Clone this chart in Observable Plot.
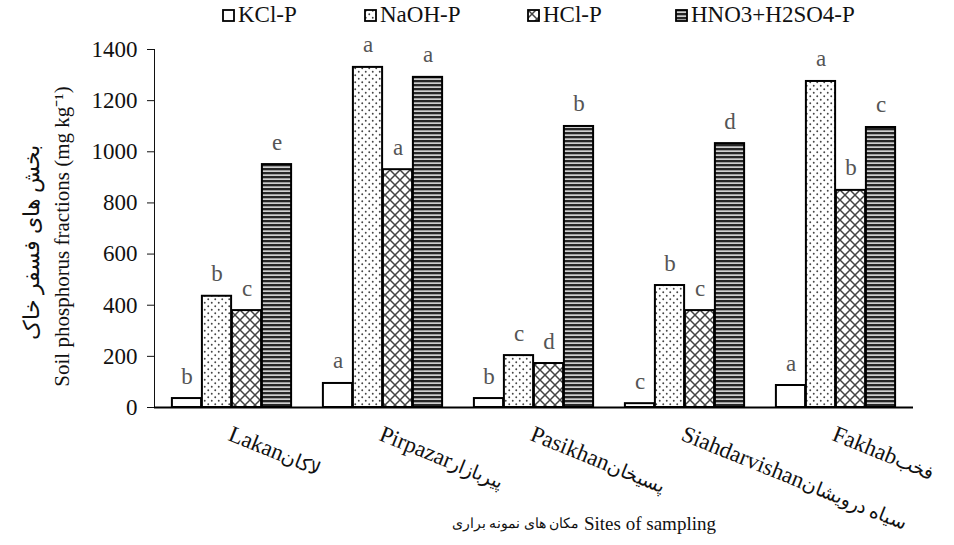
<!DOCTYPE html>
<html><head><meta charset="utf-8">
<script src="https://cdn.jsdelivr.net/npm/d3@7"></script>
<script src="https://cdn.jsdelivr.net/npm/@observablehq/plot@0.6"></script>
<style>
body{margin:0;background:#fff;font-family:"Liberation Serif","Times New Roman",serif;}
#wrap{position:relative;width:954px;height:545px;}
#legend{position:absolute;top:0;left:0;width:954px;height:32px;}
.item{position:absolute;top:1px;font-size:23px;line-height:28px;display:flex;align-items:center;white-space:nowrap;color:#111;font-family:"Liberation Serif",serif;}
.item svg{margin-right:3px;}
</style></head>
<body>
<svg width="0" height="0" style="position:absolute">
  <defs>
    <pattern id="pat0" patternUnits="userSpaceOnUse" width="4" height="4">
      <rect width="4" height="4" fill="#fff"/>
    </pattern>
    <pattern id="pat1" patternUnits="userSpaceOnUse" width="7" height="7">
      <rect width="7" height="7" fill="#fff"/>
      <circle cx="1.75" cy="1.75" r="0.95" fill="#444"/>
      <circle cx="5.25" cy="5.25" r="0.95" fill="#444"/>
    </pattern>
    <pattern id="pat2" patternUnits="userSpaceOnUse" width="10" height="10">
      <rect width="10" height="10" fill="#fff"/>
      <path d="M0,0L10,10M10,0L0,10M-1,9L1,11M9,-1L11,1" stroke="#444" stroke-width="1.5"/>
    </pattern>
    <pattern id="pat3" patternUnits="userSpaceOnUse" width="4" height="4">
      <rect width="4" height="4" fill="#cfcfcf"/>
      <rect y="0" width="4" height="2.3" fill="#262626"/>
    </pattern>
  </defs>
</svg>
<div id="wrap"><div id="legend"></div><div id="chart"></div></div>
<script>
const sites = ["Lakan", "Pirpazar", "Pasikhan", "Siahdarvishan", "Fakhab"];
const siteNamesEn = ["Lakan", "Pirpazar", "Pasikhan", "Siahdarvishan", "Fakhab"];
const siteNamesFa = ["لاکان", "پیربازار", "پسیخان", "سیاه درویشان", "فخب"];
const series = ["KCl-P", "NaOH-P", "HCl-P", "HNO3+H2SO4-P"];
const kclP = [35, 94, 35, 15, 86];
const naohP = [435, 1330, 203, 477, 1275];
const hclP = [379, 930, 172, 379, 849];
const hno3P = [950, 1291, 1099, 1032, 1095];
const kclLetters = ["b", "a", "b", "c", "a"];
const naohLetters = ["b", "a", "c", "b", "a"];
const hclLetters = ["c", "a", "d", "c", "b"];
const hno3Letters = ["e", "a", "b", "d", "c"];
const yTicks = [0, 200, 400, 600, 800, 1000, 1200, 1400];
const yTitle = "Soil phosphorus fractions (mg kg⁻¹)";
const yTitleFa = "بخش های فسفر خاک";
const xTitleFa = "مکان های نمونه براری";
const xTitleEn = "Sites of sampling";

const valuesBySeries = [kclP, naohP, hclP, hno3P];
const lettersBySeries = [kclLetters, naohLetters, hclLetters, hno3Letters];
const tables = series.map((s, k) => sites.map((site, i) => ({site, series: s, value: valuesBySeries[k][i], letter: lettersBySeries[k][i]})));

const font = '"Liberation Serif","Times New Roman",serif';
const step = (913 - 154) / sites.length;
const barW = 30;
const groupPad = (step - barW * series.length) / 2;

const marks = [];
tables.forEach((data, k) => {
  marks.push(Plot.barY(data, {
    x: "site", y: "value", fill: `url(#pat${k})`, stroke: "black", strokeWidth: 2,
    insetLeft: groupPad + barW * k, insetRight: step - groupPad - barW * (k + 1)
  }));
});
tables.forEach((data, k) => {
  marks.push(Plot.text(data, {
    x: "site", y: "value", text: "letter", dx: groupPad + barW * k + barW / 2 - step / 2,
    dy: -15, lineAnchor: "bottom", fill: "#555", fontSize: 23
  }));
});
marks.push(Plot.ruleY([0], {stroke: "black", strokeWidth: 2}));
marks.push(Plot.text(sites, {x: d => d, text: (d, i) => siteNamesEn[i] + siteNamesFa[i], frameAnchor: "bottom", rotate: 22, textAnchor: "start", lineAnchor: "top", dy: 17, dx: 1, fontSize: 23, fill: "#111"}));
marks.push(Plot.text([yTitle], {text: d => d, frameAnchor: "left", textAnchor: "middle", lineAnchor: "middle", rotate: -90, dx: -92, dy: 8, fontSize: 21, fill: "#111"}));
marks.push(Plot.text([yTitleFa], {text: d => d, frameAnchor: "left", textAnchor: "middle", lineAnchor: "middle", rotate: -90, dx: -123, dy: 14, fontSize: 22, fill: "#111"}));
marks.push(Plot.text([xTitleFa], {text: d => d, frameAnchor: "bottom", textAnchor: "end", lineAnchor: "middle", dx: 45, dy: 116, fontSize: 13.5, fill: "#111"}));
marks.push(Plot.text([xTitleEn], {text: d => d, frameAnchor: "bottom", textAnchor: "start", lineAnchor: "middle", dx: 50, dy: 116, fontSize: 19, fill: "#111"}));

const chart = Plot.plot({
  width: 954, height: 545,
  marginLeft: 154, marginRight: 41, marginTop: 49, marginBottom: 138,
  style: {fontFamily: font, fontSize: "23px", color: "#111", background: "white", overflow: "visible"},
  x: {domain: sites, padding: 0, axis: null},
  y: {domain: [0, 1400], ticks: yTicks, line: true, tickSize: 7, tickPadding: 10, tickFormat: d => String(d), label: null},
  marks
});
document.getElementById("chart").appendChild(chart);

// shrink the Persian part of each site label (DejaVu Arabic glyphs run wide)
d3.select(chart).selectAll("text").each(function () {
  const t = this.textContent;
  const i = siteNamesEn.findIndex((en, j) => t === en + siteNamesFa[j]);
  if (i < 0) return;
  const sel = d3.select(this);
  sel.text(null);
  sel.append("tspan").text(siteNamesEn[i]);
  sel.append("tspan").attr("font-size", 19).text(siteNamesFa[i]);
});

const legendX = [222, 364, 527, 675];
const legend = d3.select("#legend");
series.forEach((s, k) => {
  const item = legend.append("div").attr("class", "item").style("left", legendX[k] + "px");
  const sv = item.append("svg").attr("width", 13).attr("height", 13);
  sv.append("rect").attr("x", 1).attr("y", 1).attr("width", 11).attr("height", 11)
    .attr("fill", `url(#pat${k})`).attr("stroke", "black").attr("stroke-width", 1.8);
  item.append("span").text(s);
});
</script>
</body></html>
